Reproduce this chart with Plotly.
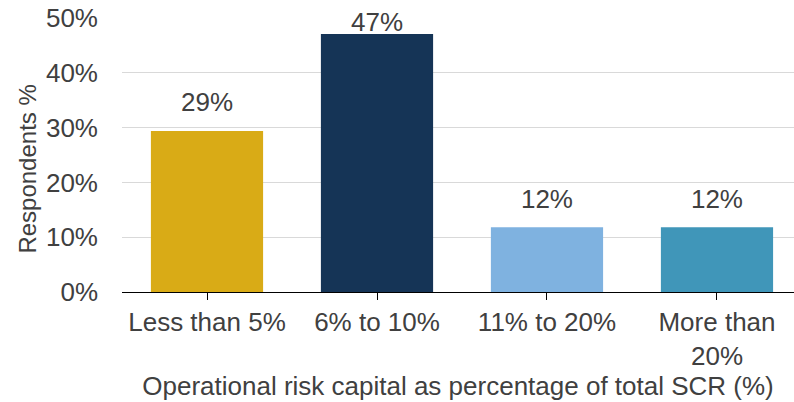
import plotly.graph_objects as go

categories = ["Less than 5%", "6% to 10%", "11% to 20%", "More than<br>20%"]
values = [29.4, 47.1, 11.8, 11.8]
labels = ["29%", "47%", "12%", "12%"]
colors = ["#D9AB16", "#153456", "#7FB2E0", "#4096B9"]

FONT = "Liberation Sans, Arial, sans-serif"
TXT = "#404040"
FS = 26

xs = list(range(len(categories)))
label_y = [min(v + 4.8, 48.9) for v in values]

fig = go.Figure()
fig.add_trace(go.Bar(
    x=xs, y=values,
    marker=dict(color=colors, line=dict(width=0)),
    width=0.66, hoverinfo="y",
))
fig.add_trace(go.Scatter(
    x=xs, y=label_y, text=labels, mode="text", textposition="middle center",
    textfont=dict(family=FONT, size=FS, color=TXT), cliponaxis=False, hoverinfo="skip",
))

fig.update_layout(
    width=794, height=402,
    margin=dict(l=122, r=0, t=18, b=110),
    paper_bgcolor="white", plot_bgcolor="white",
    font=dict(family=FONT, size=FS, color=TXT),
    showlegend=False,
    xaxis=dict(
        tickmode="array", tickvals=xs, ticktext=categories,
        range=[-0.5, 3.453], showgrid=False, showline=True, linecolor="black", linewidth=1.3,
        ticks="outside", tickson="boundaries", ticklen=7, tickcolor="black", tickwidth=1.3,
        title=dict(text="Operational risk capital as percentage of total SCR (%)", standoff=4,
                   font=dict(size=FS, color=TXT)),
        tickfont=dict(size=FS, color=TXT),
    ),
    yaxis=dict(
        range=[0, 50], tickvals=[0, 10, 20, 30, 40, 50], ticktext=["0%", "10%", "20%", "30%", "40%", "50%"],
        showgrid=True, gridcolor="#D9D9D9", gridwidth=1.3, zeroline=False,
        showline=False, ticks="", ticklabelstandoff=23,
        tickfont=dict(size=FS, color=TXT),
    ),
    annotations=[dict(
        text="Respondents %", textangle=-90, xref="paper", yref="paper",
        x=-0.14, y=0.45, xanchor="center", yanchor="middle", showarrow=False,
        font=dict(size=24, color=TXT, family=FONT),
    )],
)

fig.write_html("out.html")
